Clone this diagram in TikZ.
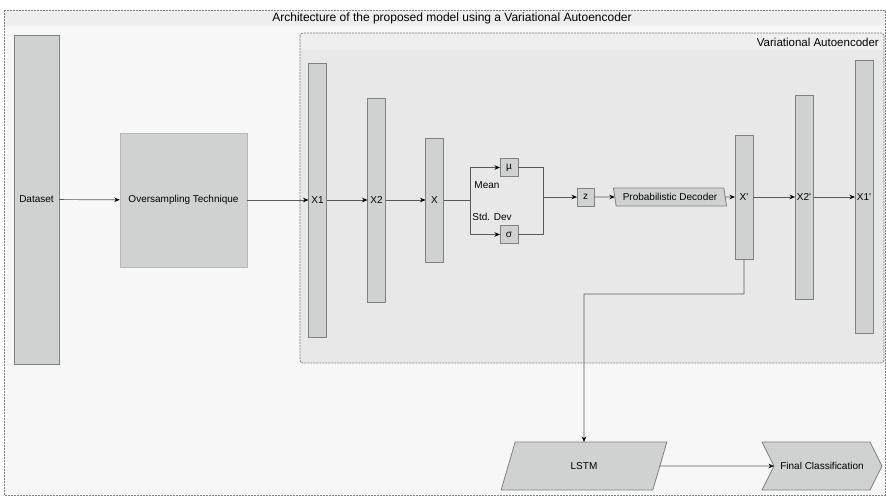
\documentclass[tikz,border=0pt]{standalone}
\usepackage{fontspec}
\setmainfont{Liberation Sans}
\usetikzlibrary{positioning}
\usetikzlibrary{arrows.meta, shapes.geometric, shapes.symbols}

\definecolor{boxfill}{RGB}{208,209,209}
\definecolor{boxline}{RGB}{128,128,128}
\definecolor{outerbg}{RGB}{247,247,247}
\definecolor{stripbg}{RGB}{238,238,238}
\definecolor{vaebg}{RGB}{232,232,232}
\definecolor{vaestrip}{RGB}{239,239,239}
\definecolor{wire}{RGB}{90,90,90}

\tikzset{
    layer/.style={draw=boxline, line width=0.8pt, fill=boxfill, minimum width=18pt, inner sep=0pt, outer sep=0pt},
    smallbox/.style={layer, minimum height=18pt},
    slantbox/.style={draw=boxline, line width=0.8pt, fill=boxfill, shape=trapezium, trapezium stretches=true, inner sep=0pt, outer sep=0pt},
    conn/.style={draw=wire, line width=0.7pt, -{Stealth[length=5.5pt, width=4.5pt, black]}},
    wireline/.style={draw=wire, line width=0.7pt},
    frame/.style={draw=boxline, line width=0.7pt, dash pattern=on 2pt off 1pt},
    framelabel/.style={font=\fontsize{11.5}{13}\selectfont, inner sep=0pt},
}

\begin{document}
\begin{tikzpicture}[x=1pt, y=-1pt, font=\fontsize{10}{12}\selectfont]
    \useasboundingbox (0,0) rectangle (886,496);

    % Frames
    \fill[outerbg] (4,10) rectangle (885,495);
    \fill[stripbg] (4,10) rectangle (885,26);
    \draw[frame] (4,10) rectangle (885,495);
    \node[framelabel, font=\fontsize{12}{14}\selectfont] (title) at (452,18) {Architecture of the proposed model using a Variational Autoencoder};

    \fill[vaebg, rounded corners=3pt] (300,33) rectangle (884,363);
    \fill[vaestrip] (301,34) rectangle (883,50);
    \draw[frame, rounded corners=3pt] (300,33) rectangle (884,363);
    \node[framelabel, anchor=east] (vaetitle) at (879,42) {Variational Autoencoder};

    % Nodes
    \node[layer, minimum width=45pt, minimum height=329pt] (dataset) at (36.5,199.5) {Dataset};
    \node[draw=boxfill!88!black, line width=0.6pt, fill=boxfill, minimum width=127pt, minimum height=134pt, inner sep=0pt]
        (oversampling) at (183.5,200) {Oversampling Technique};

    \node[layer, minimum height=274pt] (x1) at (317.5,200) {X1};
    \node[layer, minimum height=204pt, right=41pt of x1] (x2) {X2};
    \node[layer, minimum height=124pt, right=40pt of x2] (xc) {X};

    \node[smallbox] (mu) at (509,167.5) {µ};
    \node[smallbox] (sigma) at (509,234.5) {σ};
    \node (mean) at (487,185) {Mean};
    \node (stddev) at (492,217) {Std. Dev};

    \node[smallbox, minimum width=17pt] (z) at (585.5,197) {z};
    \node[slantbox, trapezium left angle=108, trapezium right angle=72, minimum width=114pt, minimum height=18pt]
        (decoder) at (670,197) {Probabilistic Decoder};

    \node[layer, minimum height=124pt] (xp) at (744,197) {X\textquotesingle};
    \node[layer, minimum height=204pt, right=42pt of xp] (x2p) {X2\textquotesingle};
    \node[layer, minimum height=273pt, right=42pt of x2p] (x1p) {X1\textquotesingle};

    \node[slantbox, trapezium left angle=69, trapezium right angle=111, minimum width=166pt, minimum height=48pt]
        (lstm) at (584,466) {LSTM};
    \node[draw=boxline, line width=0.8pt, fill=boxfill, shape=signal, signal from=west, signal to=east, signal pointer angle=127,
        minimum width=120pt, minimum height=48pt, inner sep=0pt, outer sep=0pt]
        (final) at (822,466) {Final Classification};

    \coordinate (split) at (470,200);
    \coordinate (join) at (543,197);
    \coordinate (bend) at (584,294);

    % Arrows
    \draw[conn] (dataset) -- (oversampling);
    \draw[conn] (oversampling.east) -- (x1.west);
    \draw[conn] (x1) -- (x2);
    \draw[conn] (x2) -- (xc);
    \draw[wireline] (xc) -- (split);
    \draw[conn] (split) |- (mu);
    \draw[conn] (split) |- (sigma);
    \draw[wireline] (mu) -| (join);
    \draw[wireline] (sigma) -| (join);
    \draw[conn] (join) -- (z);
    \draw[conn] (z) -- (decoder);
    \draw[conn] (decoder) -- (xp);
    \draw[conn] (xp) -- (x2p);
    \draw[conn] (x2p) -- (x1p);
    \draw[conn] (xp.south) |- (bend) -- (lstm.north);
    \draw[conn] (lstm.east) -- (final.west);
\end{tikzpicture}
\end{document}
